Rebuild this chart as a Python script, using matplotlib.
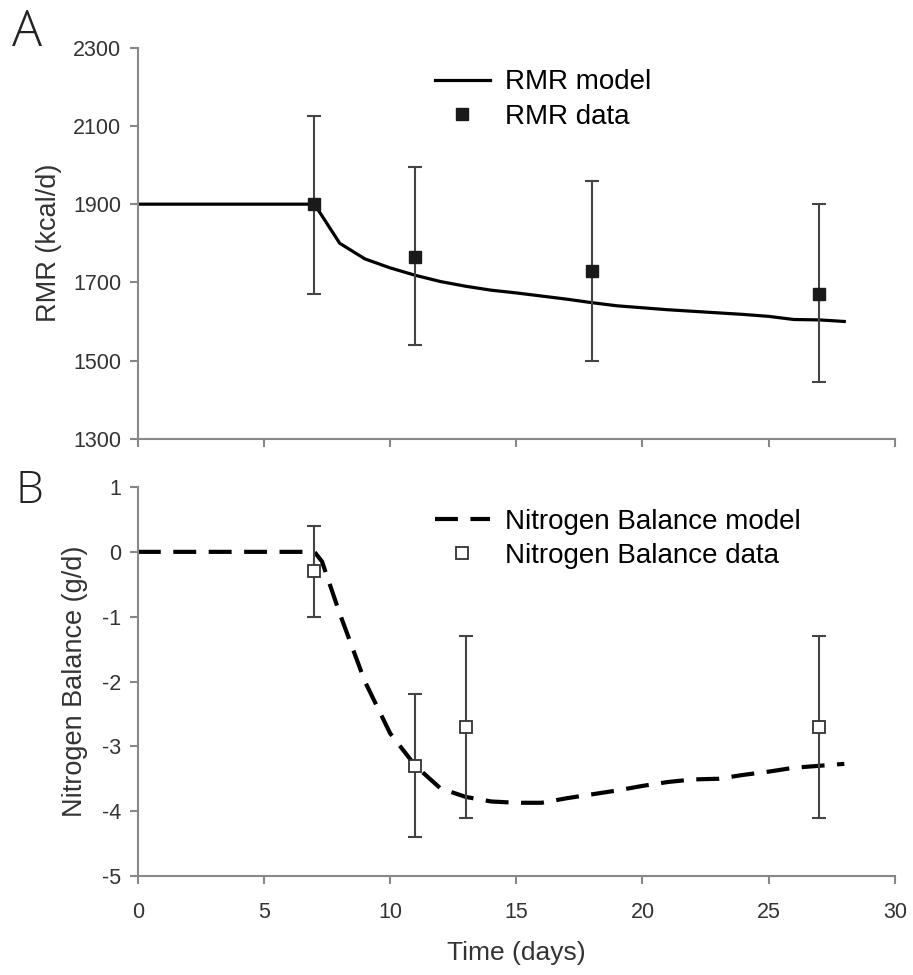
import matplotlib.pyplot as plt

plt.rcParams['font.family'] = ['Liberation Sans', 'DejaVu Sans']
plt.rcParams['axes.unicode_minus'] = False

# Panel A: resting metabolic rate
rmr_days = [0, 7, 8, 9, 10, 11, 12, 13, 14, 15, 16, 17, 18, 19, 20,
            21, 22, 23, 24, 25, 26, 27, 28]
rmr_model = [1900, 1900, 1800, 1760, 1737, 1718, 1702, 1690, 1680, 1673,
             1665, 1657, 1648, 1640, 1635, 1630, 1626, 1622, 1618, 1613,
             1605, 1604, 1600]
rmr_data_days = [7, 11, 18, 27]
rmr_data = [1900, 1765, 1730, 1670]
rmr_low = [1670, 1540, 1500, 1445]
rmr_high = [2125, 1995, 1960, 1900]

# Panel B: nitrogen balance
nb_days = [0, 7, 7.3, 8, 9, 10, 11, 12, 13, 14, 15, 16, 17, 18, 19, 20,
           21, 22, 23, 24, 25, 26, 27, 28]
nb_model = [0, 0, -0.15, -0.95, -2.0, -2.8, -3.3, -3.65, -3.78, -3.85,
            -3.87, -3.87, -3.8, -3.74, -3.68, -3.61, -3.55, -3.51, -3.5,
            -3.44, -3.39, -3.33, -3.3, -3.27]
nb_data_days = [7, 11, 13, 27]
nb_data = [-0.3, -3.3, -2.7, -2.7]
nb_low = [-1.0, -4.4, -4.1, -4.1]
nb_high = [0.4, -2.2, -1.3, -1.3]

fig = plt.figure(figsize=(9.13, 9.75), dpi=100)
ax1 = fig.add_axes([0.151, 0.550, 0.829, 0.401])
ax2 = fig.add_axes([0.151, 0.1015, 0.829, 0.399])

spine_col = '#888888'
text_col = '#333333'


def style(ax):
    for s in ['top', 'right']:
        ax.spines[s].set_visible(False)
    for s in ['left', 'bottom']:
        ax.spines[s].set_color(spine_col)
        ax.spines[s].set_linewidth(1.5)
    ax.tick_params(direction='out', length=6, width=1.5, color=spine_col,
                   labelsize=15.5, labelcolor=text_col)
    ax.tick_params(axis='y', pad=6)
    ax.set_xlim(0, 30)
    ax.set_xticks(range(0, 31, 5))


# --- A ---
style(ax1)
ax1.plot(rmr_days, rmr_model, color='black', lw=2.3, label='RMR model')
ax1.errorbar(rmr_data_days, rmr_data,
             yerr=[[d - l for d, l in zip(rmr_data, rmr_low)],
                   [h - d for d, h in zip(rmr_data, rmr_high)]],
             fmt='none', ecolor='#444444', elinewidth=1.5, capsize=5, capthick=1.5)
ax1.plot(rmr_data_days, rmr_data, 's', color='#1a1a1a', ms=9, ls='none',
         label='RMR data')
ax1.set_ylim(1300, 2300)
ax1.set_yticks(range(1300, 2301, 200))
ax1.set_xticklabels([])
ax1.set_ylabel('RMR (kcal/d)', fontsize=19.5, color=text_col, labelpad=8)
ax1.legend(loc='upper left', bbox_to_anchor=(0.392, 0.945), frameon=False,
           fontsize=20, handlelength=2.0, handletextpad=0.55,
           labelspacing=0.3, borderpad=0, borderaxespad=0)

# --- B ---
style(ax2)
ax2.plot(nb_days, nb_model, color='black', lw=3, dashes=(5.5, 3),
         label='Nitrogen Balance model')
ax2.errorbar(nb_data_days, nb_data,
             yerr=[[d - l for d, l in zip(nb_data, nb_low)],
                   [h - d for d, h in zip(nb_data, nb_high)]],
             fmt='none', ecolor='#444444', elinewidth=1.5, capsize=5, capthick=1.5)
ax2.plot(nb_data_days, nb_data, 's', mfc='white', mec='#333333', mew=1.3,
         ms=9, ls='none', label='Nitrogen Balance data')
ax2.set_ylim(-5, 1)
ax2.set_yticks(range(-5, 2))
ax2.set_ylabel('Nitrogen Balance (g/d)', fontsize=19.5, color=text_col,
               labelpad=10)
ax2.set_xlabel('Time (days)', fontsize=19, color=text_col, labelpad=13)
ax2.tick_params(axis='x', pad=13)
ax2.legend(loc='upper left', bbox_to_anchor=(0.392, 0.944), frameon=False,
           fontsize=20, handlelength=2.0, handletextpad=0.55,
           labelspacing=0.3, borderpad=0, borderaxespad=0)

fig.text(0.013, 0.992, 'A', fontsize=36, family=['Open Sans', 'DejaVu Sans'],
         fontweight='light', va='top', color='#222222')
fig.text(0.017, 0.518, 'B', fontsize=32, family=['Open Sans', 'DejaVu Sans'],
         fontweight='light', va='top', color='#222222')

fig.savefig('out.png', dpi=100)
